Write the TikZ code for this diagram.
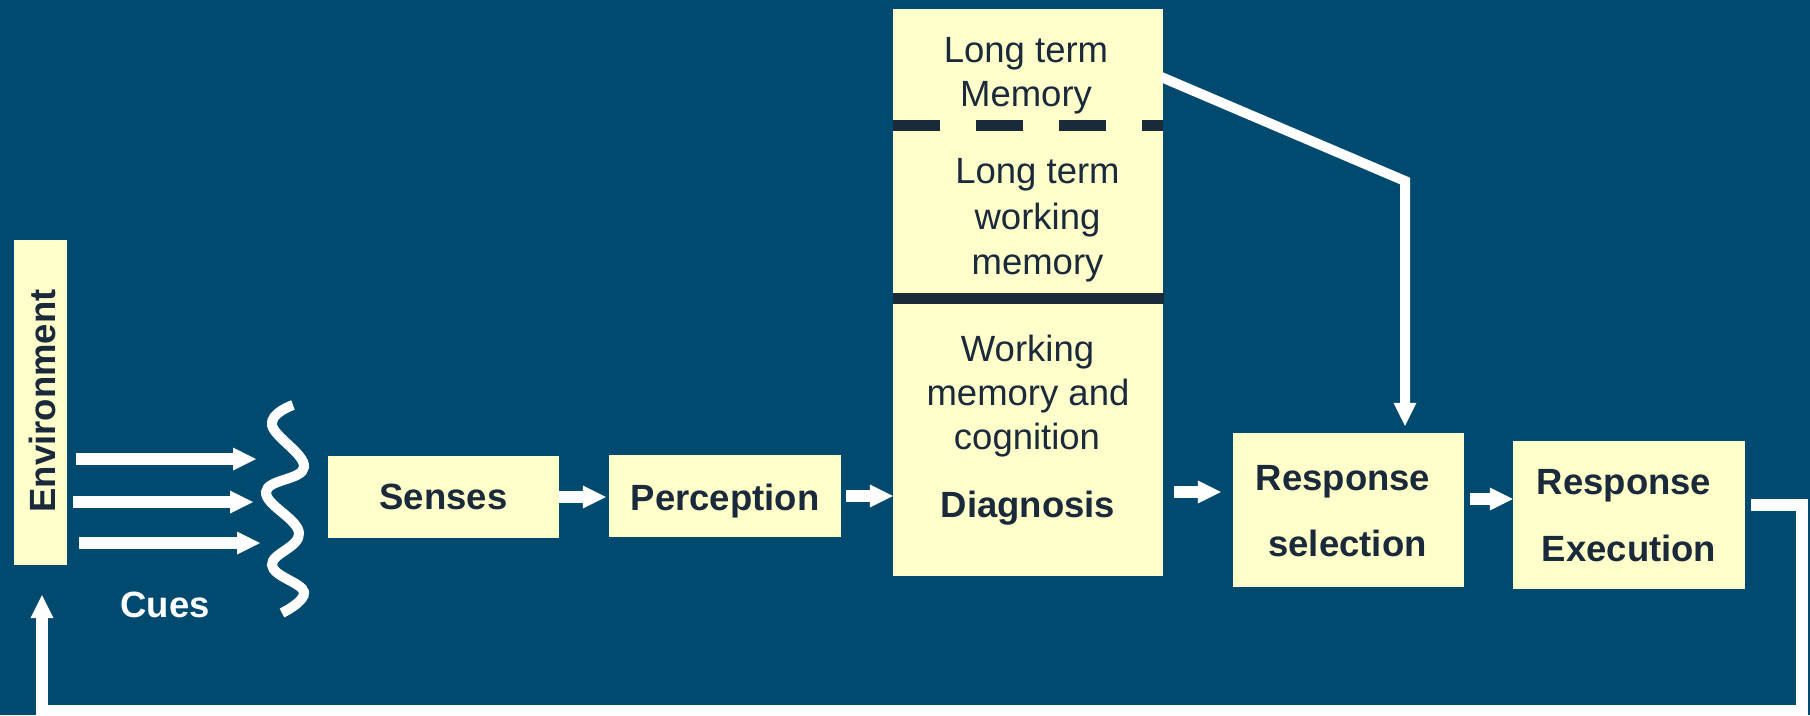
\documentclass[tikz,border=0pt]{standalone}
\usepackage{fontspec}
\setmainfont{Liberation Sans}
\usetikzlibrary{arrows.meta,calc}
\definecolor{bg}{HTML}{004A70}
\definecolor{boxfill}{HTML}{FFFFCC}
\definecolor{ink}{HTML}{1B2A3B}
\begin{document}
\begin{tikzpicture}[x=1pt,y=-1pt,
  box/.style={draw=none, fill=boxfill, rectangle, inner sep=0pt},
  lbl/.style={anchor=base, inner sep=0pt, text=ink, font=\fontsize{36.5}{46}\selectfont},
  blbl/.style={anchor=base, inner sep=0pt, text=ink, font=\fontsize{36.5}{46}\selectfont\bfseries},
  tip/.style={-{Triangle[length=23pt,width=23pt,line width=0pt]}},
  fat/.style={draw=white, line width=12pt, tip},
  sep/.style={draw=ink, line width=11pt}
]
\fill[bg] (0,0) rectangle (1810,715);
\useasboundingbox (0,0) rectangle (1810,715);

% boxes
\node[box, minimum width=53pt, minimum height=325pt] (env) at (40.5,402.5) {};
\node[blbl, rotate=90] (envt) at (55,401) {Environment};
\node[box, minimum width=231pt, minimum height=82pt] (sen) at (443.5,497) {};
\node[blbl] (sent) at (443.5,509) {Senses};
\node[box, minimum width=232pt, minimum height=82pt] (per) at (725,496) {};
\node[blbl] (pert) at (725,510) {Perception};
\node[box, minimum width=270pt, minimum height=567pt] (cog) at (1028,292.5) {};
\node[box, minimum width=231pt, minimum height=154pt] (RS) at (1348.5,510) {};
\node[blbl] (rs1) at (1343,490) {Response};
\node[blbl] (rs2) at (1347.5,556) {selection};
\node[box, minimum width=232pt, minimum height=148pt] (RE) at (1629,515) {};
\node[blbl] (re1) at (1624,494) {Response};
\node[blbl] (re2) at (1629,561) {Execution};

% separators in memory column
\draw[sep, dash pattern=on 47pt off 36pt] (893,125.5) -- (1163,125.5);
\draw[sep] (893,298) -- (1164,298);

% memory column texts
\node[lbl] (t1) at (1026,62) {Long term};
\node[lbl] (t2) at (1026,106) {Memory};
\node[lbl] (t3) at (1037.5,183) {Long term};
\node[lbl] (t4) at (1037.5,229) {working};
\node[lbl] (t5) at (1037.5,274) {memory};
\node[lbl] (t6) at (1027.5,361) {Working};
\node[lbl] (t7) at (1028,405) {memory and};
\node[lbl] (t8) at (1027,449) {cognition};
\node[blbl] (t9) at (1028,517) {Diagnosis};

% cues
\node[blbl, text=white] (cues) at (165,617) {Cues};
\coordinate (c1a) at (76,459);  \coordinate (c1b) at (256,459);
\coordinate (c2a) at (73,502);  \coordinate (c2b) at (253,502);
\coordinate (c3a) at (79,543);  \coordinate (c3b) at (260,543);
\draw[fat] (c1a) -- (c1b);
\draw[fat] (c2a) -- (c2b);
\draw[fat] (c3a) -- (c3b);
\draw[white, line width=10pt] plot[smooth, tension=0.7] coordinates
  {(293,405) (272,425) (304,467) (266,492) (299,533) (272,565) (304,592) (282,613)};

% flow arrows
\draw[fat, shorten >=3pt] (sen.east) -- (sen.east -| per.west);
\draw[fat, shorten <=5pt] (per.east) -- (per.east -| cog.west);
\draw[fat] ($(cog.east)+(11,199.5)$) -- ($(RS.west)+(-12,-18)$);
\draw[fat] ($(RS.east)+(6,-11)$) -- ($(RE.west)+(0,-16)$);

% long term memory to response selection
\coordinate (ltmc) at (1405,181);
\draw[white, line width=10pt, tip] ($(cog.east)+(-2,-215.5)$) -- (ltmc) -- ($(RS.north)+(56.5,-7)$);

% feedback loop
\coordinate (fb1) at (1802,505);
\coordinate (fb2) at (1802,711);
\coordinate (fb3) at (42,711);
\draw[fat] ($(RE.east)+(6,-10)$) -- (fb1) -- (fb2) -- (fb3) -- ($(env.south)+(1.5,30)$);
\end{tikzpicture}
\end{document}
